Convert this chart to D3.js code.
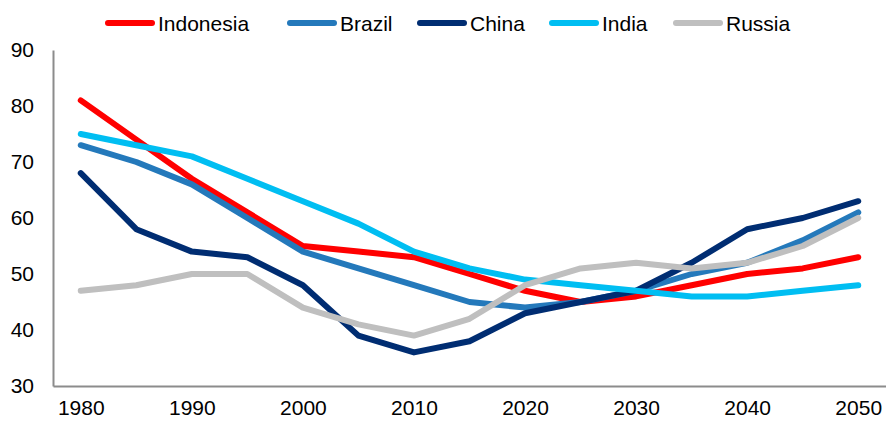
<!DOCTYPE html>
<html>
<head>
<meta charset="utf-8">
<script src="https://cdn.jsdelivr.net/npm/d3@7"></script>
<style>
  html, body { margin: 0; padding: 0; background: #fff; }
  svg { display: block; font-family: "Liberation Sans", Arial, sans-serif; }
</style>
</head>
<body>
<svg id="chart" width="886" height="422"></svg>
<script>
// Years on the category axis
const years = [1980, 1985, 1990, 1995, 2000, 2005, 2010, 2015, 2020, 2025, 2030, 2035, 2040, 2045, 2050];
const xTickYears = [1980, 1990, 2000, 2010, 2020, 2030, 2040, 2050];
const yTicks = [30, 40, 50, 60, 70, 80, 90];

// Series values per country
const indonesia = [81, 74, 67, 61, 55, 54, 53, 50, 47, 45, 46, 48, 50, 51, 53];
const brazil    = [73, 70, 66, 60, 54, 51, 48, 45, 44, 45, 47, 50, 52, 56, 61];
const china     = [68, 58, 54, 53, 48, 39, 36, 38, 43, 45, 47, 52, 58, 60, 63];
const india     = [75, 73, 71, 67, 63, 59, 54, 51, 49, 48, 47, 46, 46, 47, 48];
const russia    = [47, 48, 50, 50, 44, 41, 39, 42, 48, 51, 52, 51, 52, 55, 60];

const seriesNames  = ["Indonesia", "Brazil", "China", "India", "Russia"];
const seriesValues = [indonesia, brazil, china, india, russia];
const seriesColors = ["#FF0000", "#2479BB", "#002D72", "#00BEF2", "#BFBFBF"];

const svg = d3.select("#chart");

const plot = { left: 53, right: 886, top: 50, bottom: 386 };

// Band-style category axis: points sit in the middle of each slot
const x = d3.scalePoint()
  .domain(years)
  .range([plot.left, plot.right])
  .padding(0.5);

const y = d3.scaleLinear()
  .domain([30, 90])
  .range([plot.bottom, plot.top]);

// Y axis
const yAxis = svg.append("g")
  .attr("transform", `translate(${plot.left},0)`)
  .call(d3.axisLeft(y).tickValues(yTicks).tickSize(0).tickPadding(19).tickFormat(d3.format("d")));
yAxis.select(".domain").attr("stroke", "#8C8C8C").attr("stroke-width", 2);
yAxis.selectAll("text").attr("font-size", 21).attr("fill", "#000")
  .attr("font-family", "'Liberation Sans', Arial, sans-serif");

// X axis
const xAxis = svg.append("g")
  .attr("transform", `translate(0,${plot.bottom})`)
  .call(d3.axisBottom(x).tickValues(xTickYears).tickSize(0).tickPadding(14).tickFormat(d3.format("d")));
xAxis.select(".domain").attr("stroke", "#8C8C8C").attr("stroke-width", 2);
xAxis.selectAll("text").attr("font-size", 21).attr("fill", "#000")
  .attr("font-family", "'Liberation Sans', Arial, sans-serif");

// Lines
const line = d3.line()
  .x((d, i) => x(years[i]))
  .y(d => y(d));

seriesValues.forEach((vals, k) => {
  svg.append("path")
    .datum(vals)
    .attr("fill", "none")
    .attr("stroke", seriesColors[k])
    .attr("stroke-width", 6)
    .attr("stroke-linecap", "round")
    .attr("stroke-linejoin", "round")
    .attr("d", line);
});

// Legend
const legendX = [108, 290, 420, 552, 676];
const legend = svg.append("g");
seriesNames.forEach((name, k) => {
  const g = legend.append("g").attr("transform", `translate(${legendX[k]},23)`);
  g.append("line")
    .attr("x1", 0).attr("x2", 44)
    .attr("y1", 0).attr("y2", 0)
    .attr("stroke", seriesColors[k])
    .attr("stroke-width", 6)
    .attr("stroke-linecap", "round");
  g.append("text")
    .attr("x", 50).attr("y", 7.5)
    .attr("font-size", 21)
    .attr("fill", "#000")
    .text(name);
});
</script>
</body>
</html>
